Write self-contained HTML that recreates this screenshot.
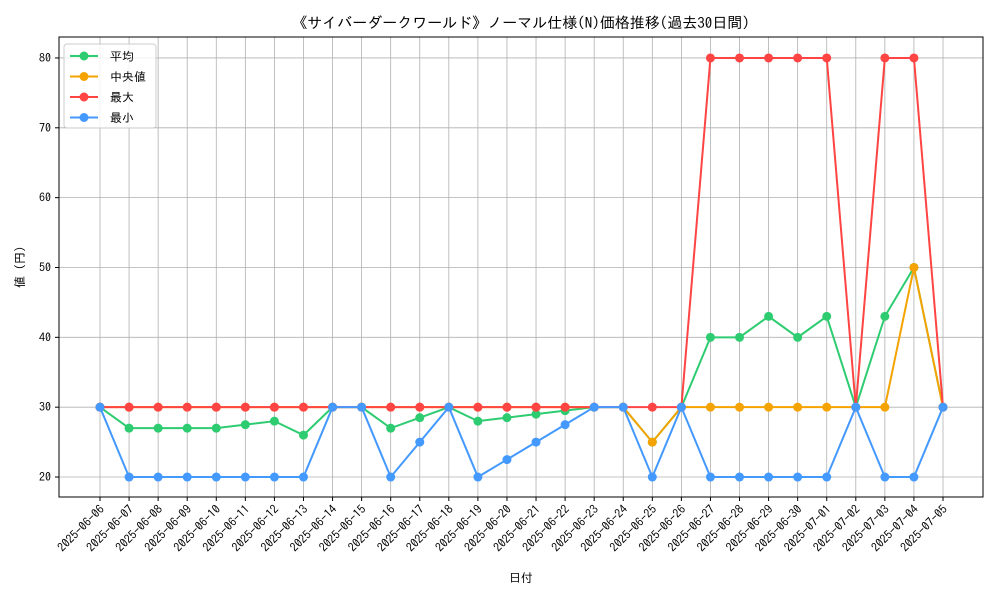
<!DOCTYPE html>
<html><head><meta charset="utf-8"><style>
body{margin:0;background:#fff;}
svg text{font-family:"IPAGothic","Noto Sans CJK JP",sans-serif;fill:#000;}
</style></head><body>
<svg id="chart" width="1000" height="600" xmlns="http://www.w3.org/2000/svg">
<rect width="1000" height="600" fill="#fff"/>
<text x="521" y="28" text-anchor="middle" font-size="15">《サイバーダークワールド》ノーマル仕様(N)価格推移(過去30日間)</text>
<g id="grid"></g>
<rect x="59" y="37" width="924" height="460" fill="none" stroke="#000" stroke-width="1"/>
<g id="ticks"></g>
<g id="series"></g>
<text x="521" y="582" text-anchor="middle" font-size="12">日付</text>
<text transform="translate(24,267) rotate(-90)" text-anchor="middle" font-size="12">値 (円)</text>
<g id="legend"></g>
</svg>
<script>
const dates=["2025-06-06","2025-06-07","2025-06-08","2025-06-09","2025-06-10","2025-06-11","2025-06-12","2025-06-13","2025-06-14","2025-06-15","2025-06-16","2025-06-17","2025-06-18","2025-06-19","2025-06-20","2025-06-21","2025-06-22","2025-06-23","2025-06-24","2025-06-25","2025-06-26","2025-06-27","2025-06-28","2025-06-29","2025-06-30","2025-07-01","2025-07-02","2025-07-03","2025-07-04","2025-07-05"];
const avgValues=[30,27,27,27,27,27.5,28,26,30,30,27,28.5,30,28,28.5,29,29.5,30,30,25,30,40,40,43,40,43,30,43,50,30];
const medianValues=[30,30,30,30,30,30,30,30,30,30,30,30,30,30,30,30,30,30,30,25,30,30,30,30,30,30,30,30,50,30];
const maxValues=[30,30,30,30,30,30,30,30,30,30,30,30,30,30,30,30,30,30,30,30,30,80,80,80,80,80,30,80,80,30];
const minValues=[30,20,20,20,20,20,20,20,30,30,20,25,30,20,22.5,25,27.5,30,30,20,30,20,20,20,20,20,30,20,20,30];
const yTicks=[20,30,40,50,60,70,80];
const seriesNames=["平均","中央値","最大","最小"];
const NS="http://www.w3.org/2000/svg";
const X0=100,X1=943,PT=37,PB=497,YMIN=17.14,YMAX=83.0;
const xs=i=>X0+(X1-X0)*i/(dates.length-1);
const ys=v=>PB-(v-YMIN)/(YMAX-YMIN)*(PB-PT);
function mk(tag,attrs,parent){const e=document.createElementNS(NS,tag);for(const k in attrs)e.setAttribute(k,attrs[k]);parent.appendChild(e);return e;}
const grid=document.getElementById('grid'),ticks=document.getElementById('ticks');
dates.forEach((d,i)=>{
 const x=xs(i);
 const l=mk('line',{x1:x,x2:x,y1:PT,y2:PB,stroke:'#b0b0b0','stroke-width':0.8},grid);
 
 
 mk('line',{x1:x,x2:x,y1:PB,y2:PB+4,stroke:'#000'},ticks);
 const t=mk('text',{transform:`translate(${x+5},${PB+13}) rotate(-45)`,'text-anchor':'end','font-size':12},ticks);
 t.textContent=d;
 
 
});
yTicks.forEach(v=>{
 const y=ys(v);
 const l=mk('line',{x1:59,x2:983,y1:y,y2:y,stroke:'#b0b0b0','stroke-width':0.8},grid);
 
 
 mk('line',{x1:55,x2:59,y1:y,y2:y,stroke:'#000'},ticks);
 const t=mk('text',{x:51,y:y+4,'text-anchor':'end','font-size':12},ticks);
 t.textContent=v;
 
 
});
const colors=["#2ecc71","#f5a300","#ff4444","#4499ff"];
const allSeries=[avgValues,medianValues,maxValues,minValues];
const keys=["average","median","max","min"];
const sg=document.getElementById('series');
allSeries.forEach((vals,s)=>{
 const g=mk('g',{},sg);
 
 
 const p=mk('polyline',{points:vals.map((v,i)=>xs(i)+','+ys(v)).join(' '),fill:'none',stroke:colors[s],'stroke-width':2},g);
 
 
 vals.forEach((v,i)=>{
  const c=mk('circle',{cx:xs(i),cy:ys(v),r:4.5,fill:colors[s]},g);
  
  
 });
});
const lg=document.getElementById('legend');


mk('rect',{x:64,y:44,width:92,height:84,rx:3,fill:'#fff','fill-opacity':0.8,stroke:'#ccc'},lg);
seriesNames.forEach((n,s)=>{
 const y=56+s*20.5;
 const e=mk('g',{},lg);
 
 
 mk('line',{x1:70,x2:98,y1:y,y2:y,stroke:colors[s],'stroke-width':2},e);
 mk('circle',{cx:84,cy:y,r:4.5,fill:colors[s]},e);
 const t=mk('text',{x:110,y:y+4.5,'font-size':12},e);
 t.textContent=n;
});
</script>
</body></html>
